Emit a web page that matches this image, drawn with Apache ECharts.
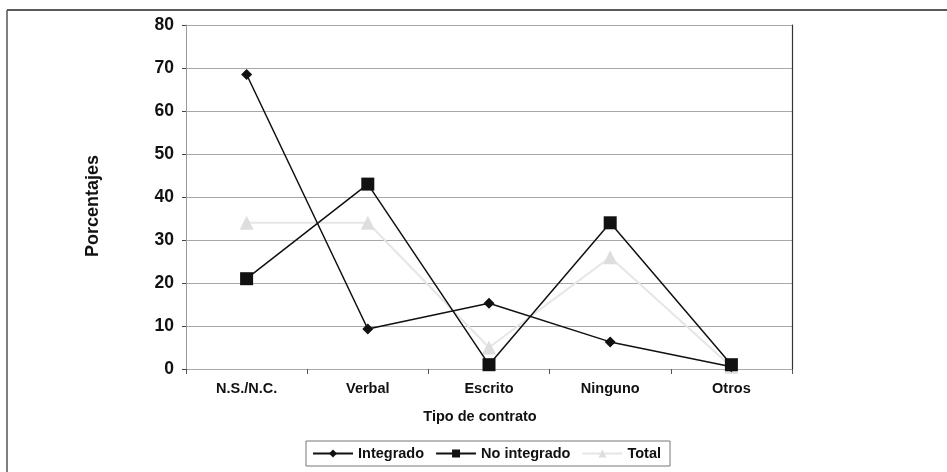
<!DOCTYPE html>
<html>
<head>
<meta charset="utf-8">
<script src="https://cdn.jsdelivr.net/npm/echarts@6/dist/echarts.min.js"></script>
<style>
  html, body { margin: 0; padding: 0; background: #fff; }
  #chart { width: 947px; height: 472px; }
</style>
</head>
<body>
<div id="chart"></div>
<script>
// Tipos de contrato y porcentajes por grupo
const categories = ['N.S./N.C.', 'Verbal', 'Escrito', 'Ninguno', 'Otros'];
const integrado = [68.5, 9.3, 15.3, 6.3, 0.5];
const noIntegrado = [21, 43, 1, 34, 1];
const total = [34, 34, 5, 26, 0.5];
const yTicks = { min: 0, max: 80, interval: 10 };

const font = '"Liberation Sans", Arial, Helvetica, sans-serif';
const chart = echarts.init(document.getElementById('chart'));

chart.setOption({
  animation: false,
  backgroundColor: '#fff',
  textStyle: { fontFamily: font },
  grid: { left: 186, right: 155, top: 25, bottom: 103, containLabel: false },
  graphic: [
    // marco exterior
    { type: 'line', shape: { x1: 7, y1: 10, x2: 947, y2: 10 }, style: { stroke: '#222', lineWidth: 1.5 } },
    { type: 'line', shape: { x1: 7, y1: 10, x2: 7, y2: 472 }, style: { stroke: '#555', lineWidth: 1.5 } }
  ],
  legend: {
    left: 306, top: 441,
    padding: [5, 9, 5, 6],
    itemGap: 11,
    itemWidth: 40, itemHeight: 10,
    borderColor: '#777', borderWidth: 1,
    textStyle: { fontFamily: font, fontWeight: 'bold', fontSize: 14.5, color: '#111' },
    data: ['Integrado', 'No integrado', 'Total']
  },
  xAxis: {
    type: 'category',
    data: categories,
    boundaryGap: true,
    name: 'Tipo de contrato',
    nameLocation: 'middle',
    nameGap: 40,
    nameTextStyle: { fontFamily: font, fontWeight: 'bold', fontSize: 14.5, color: '#111', padding: [0, 18, 0, 0] },
    axisLine: { lineStyle: { color: '#aaa', width: 1 } },
    axisTick: { show: true, length: 5, lineStyle: { color: '#555' } },
    axisLabel: { fontFamily: font, fontWeight: 'bold', fontSize: 14.5, color: '#111', margin: 12 }
  },
  yAxis: [{
    type: 'value',
    min: yTicks.min, max: yTicks.max, interval: yTicks.interval,
    name: 'Porcentajes',
    nameLocation: 'middle',
    nameGap: 84,
    nameTextStyle: { fontFamily: font, fontWeight: 'bold', fontSize: 18, color: '#111', padding: [0, 18, 0, 0] },
    axisLine: { show: true, lineStyle: { color: '#999', width: 1 } },
    axisTick: { show: true, length: 4, lineStyle: { color: '#444' } },
    axisLabel: { fontFamily: font, fontWeight: 'bold', fontSize: 17.5, color: '#111', margin: 12 },
    splitLine: { show: true, lineStyle: { color: '#a8a8a8', width: 1.2 } }
  }, {
    type: 'value',
    position: 'right',
    min: yTicks.min, max: yTicks.max, interval: yTicks.interval,
    axisLine: { show: true, lineStyle: { color: '#333', width: 1.2 } },
    axisTick: { show: false },
    axisLabel: { show: false },
    splitLine: { show: false }
  }],
  series: [
    {
      name: 'Total',
      type: 'line',
      data: total,
      symbol: 'triangle',
      symbolSize: 14,
      z: 2,
      lineStyle: { color: '#e6e6e6', width: 2 },
      itemStyle: { color: '#dedede' }
    },
    {
      name: 'Integrado',
      type: 'line',
      data: integrado,
      symbol: 'diamond',
      symbolSize: 11,
      z: 3,
      lineStyle: { color: '#111', width: 1.5 },
      itemStyle: { color: '#111' }
    },
    {
      name: 'No integrado',
      type: 'line',
      data: noIntegrado,
      symbol: 'rect',
      symbolSize: 13,
      z: 4,
      lineStyle: { color: '#111', width: 1.5 },
      itemStyle: { color: '#111' }
    }
  ]
});
</script>
</body>
</html>
